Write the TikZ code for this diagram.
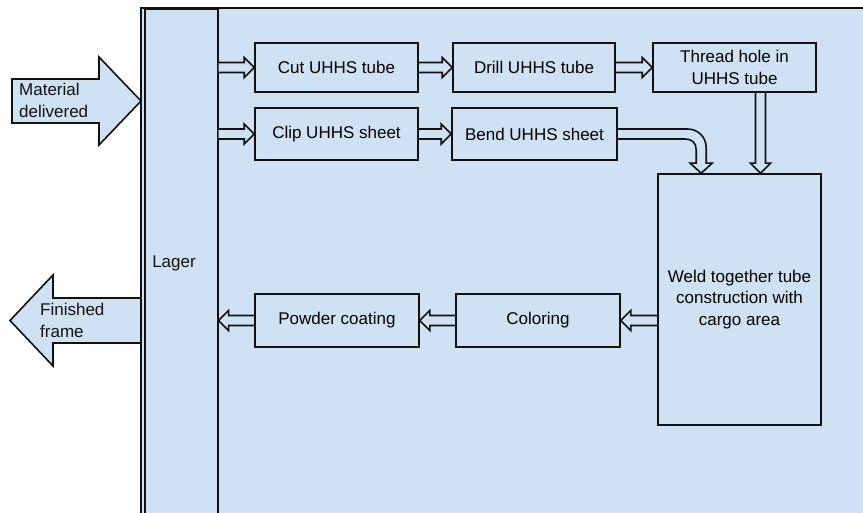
\documentclass[tikz,border=0pt]{standalone}
\usepackage{fontspec}
\setmainfont{Liberation Sans}
\usetikzlibrary{calc}
\pgfdeclarelayer{back}
\pgfdeclarelayer{mid}
\pgfsetlayers{back,mid,main}
\definecolor{bgblue}{HTML}{CFE2F3}
\definecolor{ink}{HTML}{111111}
\begin{document}
\begin{tikzpicture}[x=1pt,y=-1pt,
  font=\fontsize{17}{21.5}\selectfont,
  ln/.style={draw=ink,line width=1.6pt},
  box/.style={ln,fill=bgblue,inner sep=0pt,align=center},
  txt/.style={inner sep=0pt,align=left,text=ink},
  conn/.style={ln,fill=bgblue,line join=miter},
  arrR/.style={to path={($(\tikztostart)+(0,-5)$) -- ($(\tikztotarget)+(-10,-5)$) -- ($(\tikztotarget)+(-10,-10)$) -- (\tikztotarget) -- ($(\tikztotarget)+(-10,10)$) -- ($(\tikztotarget)+(-10,5)$) -- ($(\tikztostart)+(0,5)$)}},
  arrL/.style={to path={($(\tikztostart)+(0,-5)$) -- ($(\tikztotarget)+(10,-5)$) -- ($(\tikztotarget)+(10,-10)$) -- (\tikztotarget) -- ($(\tikztotarget)+(10,10)$) -- ($(\tikztotarget)+(10,5)$) -- ($(\tikztostart)+(0,5)$)}},
  arrD/.style={to path={($(\tikztostart)+(-5,0)$) -- ($(\tikztotarget)+(-5,-10)$) -- ($(\tikztotarget)+(-10,-10)$) -- (\tikztotarget) -- ($(\tikztotarget)+(10,-10)$) -- ($(\tikztotarget)+(5,-10)$) -- ($(\tikztostart)+(5,0)$)}}]
\useasboundingbox (0,0) rectangle (863,513);

% background frame and storage column
\begin{pgfonlayer}{back}
  \draw[ln,fill=bgblue] (141,8) rectangle (880,530);
  \node[ln,fill=bgblue,minimum width=73,minimum height=530,anchor=north west,inner sep=0pt] (lager) at (144,8) {};
\end{pgfonlayer}
\node[txt] (lagerlbl) at (174,263) {Lager};

% process boxes
\node[box,minimum width=163,minimum height=49] (cut) at (336.5,67.5) {Cut UHHS tube};
\node[box,minimum width=162,minimum height=49] (drill) at (534,67.5) {Drill UHHS tube};
\node[box,minimum width=163,minimum height=49] (thread) at (734.5,67.5) {Thread hole in\\UHHS tube};
\node[box,minimum width=163,minimum height=52] (clip) at (336.5,134) {Clip UHHS sheet};
\node[box,minimum width=165,minimum height=52] (bend) at (534.5,134) {Bend UHHS sheet};
\node[box,minimum width=163,minimum height=251] (weld) at (739.5,299.5) {Weld together tube\\construction with\\cargo area};
\node[box,minimum width=164,minimum height=53] (color) at (538,320.5) {Coloring};
\node[box,minimum width=164,minimum height=53] (powder) at (337,320.5) {Powder coating};

% input / output block arrows
\draw[conn] (12,79) -- (99,79) -- (99,57) -- (141,101) -- (99,145) -- (99,123) -- (12,123) -- cycle;
\node[txt,anchor=west] (matlbl) at (19,100.5) {Material\\delivered};
\draw[conn] (141,298) -- (53,298) -- (53,275) -- (10,320.5) -- (53,366) -- (53,343) -- (141,343) -- cycle;
\node[txt,anchor=west] (finlbl) at (40,320.5) {Finished\\frame};

% connectors
\coordinate (t1) at ($(thread.south)+(26,0)$);
\coordinate (w1) at (t1 |- weld.north);
\coordinate (bt) at ($(weld.north west)+(44,0)$);
\coordinate (bc) at (bt |- bend.east);
\begin{pgfonlayer}{mid}
  \draw[conn] (lager.east |- cut.west) to[arrR] (cut.west);
  \draw[conn] (lager.east |- clip.west) to[arrR] (clip.west);
  \draw[conn] (cut.east) to[arrR] (drill.west);
  \draw[conn] (drill.east) to[arrR] (thread.west);
  \draw[conn] (clip.east) to[arrR] (bend.west);
  \draw[conn] (t1) to[arrD] (w1);
  \draw[conn] ($(bend.east)+(0,-5)$) -- ($(bc)+(-14,-5)$)
     .. controls ($(bc)+(-3,-5)$) and ($(bc)+(5,3)$) .. ($(bc)+(5,14)$)
     -- ($(bt)+(5,-10)$) -- ($(bt)+(11,-10)$) -- (bt) -- ($(bt)+(-11,-10)$) -- ($(bt)+(-5,-10)$)
     -- ($(bc)+(-5,16)$)
     .. controls ($(bc)+(-5,9)$) and ($(bc)+(-9,5)$) .. ($(bc)+(-16,5)$)
     -- ($(bend.east)+(0,5)$);
  \draw[conn] (weld.west |- color.east) to[arrL] (color.east);
  \draw[conn] (color.west) to[arrL] (powder.east);
  \draw[conn] (powder.west) to[arrL] (lager.east |- powder.west);
\end{pgfonlayer}
\end{tikzpicture}
\end{document}
